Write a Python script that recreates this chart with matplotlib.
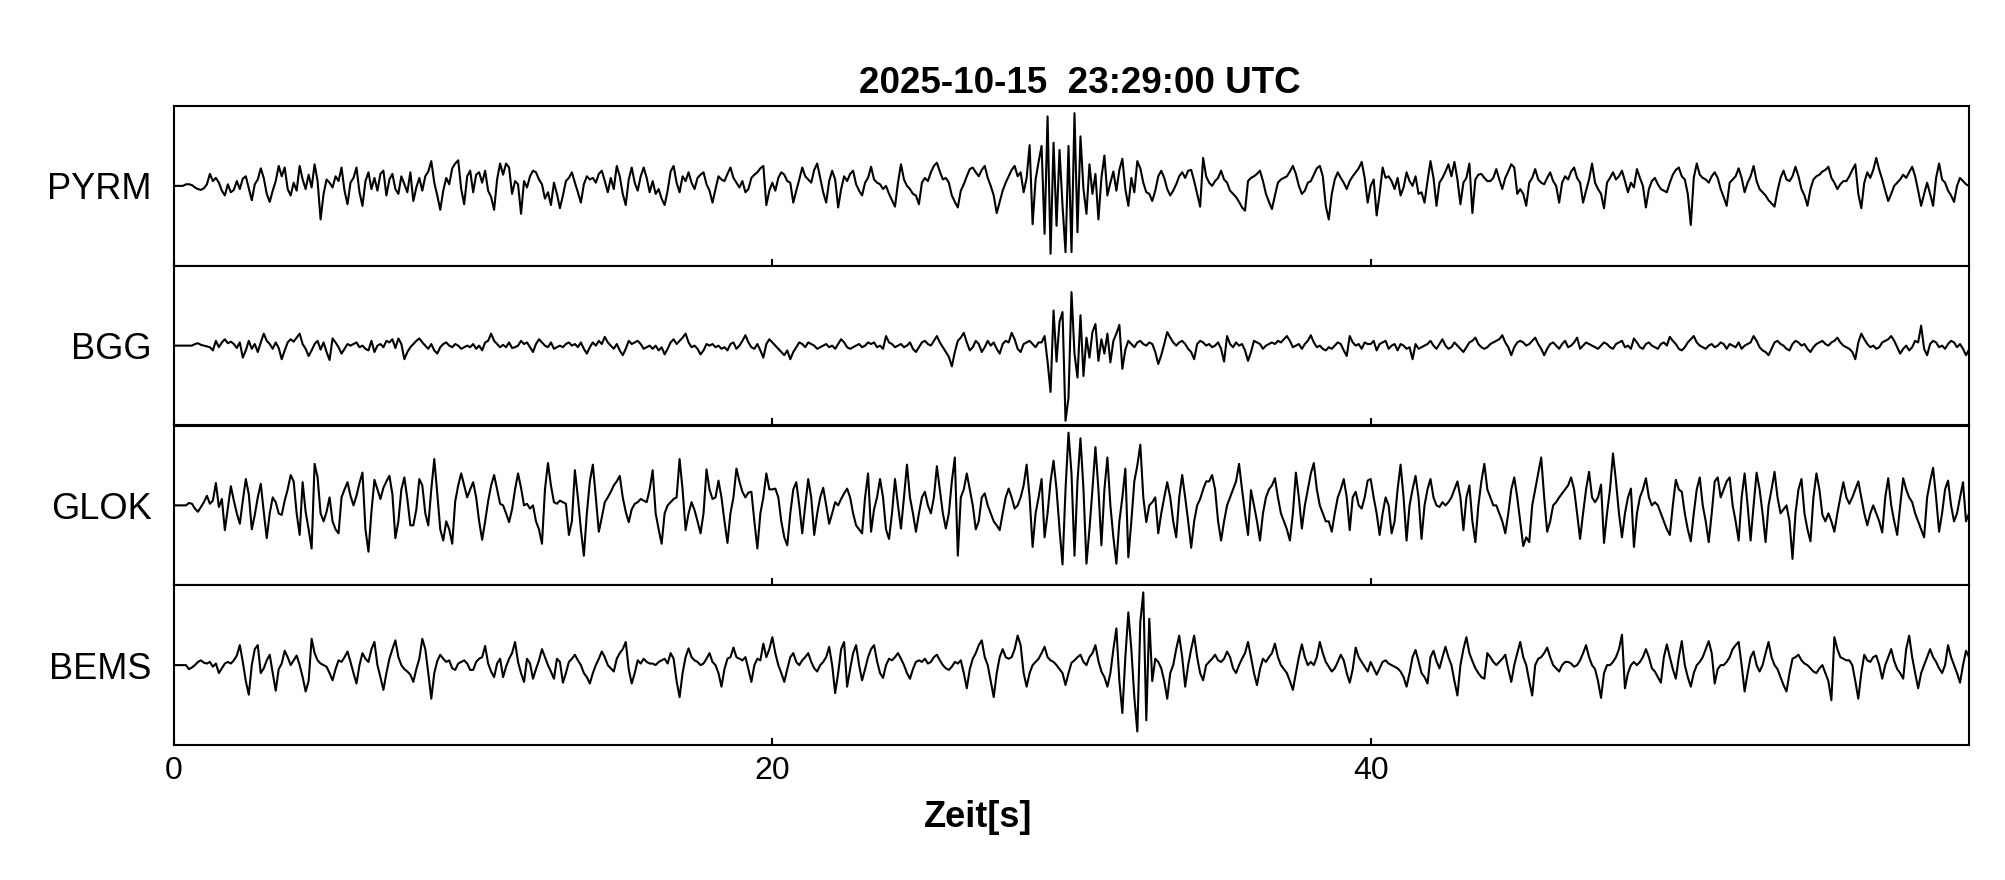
import matplotlib
matplotlib.use('Agg')
import matplotlib.pyplot as plt
import numpy as np

plt.rcParams['font.family'] = 'Liberation Sans'

stations = ['PYRM', 'BGG', 'GLOK', 'BEMS']
xticks = [0, 20, 40]
title = '2025-10-15  23:29:00 UTC'
xlabel = 'Zeit[s]'

# Amplituden in % der halben Spurhoehe, ein Wert alle 0.1 s (0 ... 60 s)
pyrm = [
    0, 0, 0, 0, 2, 2, 1, -2, -4, -5,
    -3, 2, 15, 6, 10, 4, -6, -12, 2, -8,
    -5, 6, -4, 9, 12, -3, -18, 2, 8, 22,
    10, -10, -20, -6, 6, 25, 12, 23, -4, -12,
    4, -6, 25, 8, -4, 14, -2, 27, 6, -42,
    -10, 8, 4, -2, 12, 6, 23, -6, -23, 4,
    10, 23, -8, -25, 6, 17, -4, 10, -6, 15,
    19, -12, 8, 15, -4, -10, 12, 2, -8, 17,
    -19, -2, 10, -6, 12, 18, 31, 4, -12, -30,
    -6, 10, 2, 22, 28, 32, -4, -23, 12, 19,
    -8, 14, 17, 4, 19, -6, -14, -30, 8, 28,
    14, 28, 23, -10, 6, 2, -35, 6, -2, 12,
    19, 17, 8, 2, -16, -8, -24, 4, -10, -28,
    -12, 6, 10, 17, 4, -8, -21, 2, 12, 8,
    10, 4, 15, 19, 6, -8, 10, -4, 25, 12,
    -10, -24, 8, 23, 4, -6, 12, 23, 10, -8,
    6, -10, -4, -16, -24, -6, 18, 25, 4, -8,
    12, 6, 17, 4, -4, 10, 14, 17, 2, -6,
    -21, -4, 12, 8, 6, 15, 23, 10, 4, -2,
    6, -8, -4, 10, 14, 17, 22, 25, -24, -6,
    4, -6, 10, 17, 14, 6, 4, -21, -6, 8,
    23, 12, 8, 4, 20, 28, 10, -8, -21, 6,
    19, 8, -27, -4, 12, 6, 15, 19, 2, -6,
    -12, 4, 10, 24, 8, 4, 2, -4, 0, -10,
    -18, -26, 4, 27, 8, 0, -4, -10, -12, -23,
    4, 10, 6, 17, 25, 29, 18, 8, 10, 4,
    -12, -20, -27, -6, 2, 12, 21, 23, 17, 12,
    20, 25, 10, 0, -12, -34, -20, -6, 4, 12,
    20, 25, 12, 17, -8, 10, 51, -48, 8, 30,
    50, -60, 87, -85, 54, -50, 45, -25, -83, 50,
    -83, 91, -58, 62, -4, -35, 27, -10, 15, -42,
    10, 38, -12, 4, 18, -6, 20, 34, -4, -25,
    10, -8, 31, 22, 4, -8, -10, -19, -6, 12,
    19, 10, -4, -12, -6, 2, 12, 17, 10, 19,
    20, 6, -10, -26, 35, 12, 4, 0, 6, 10,
    19, 8, 4, -6, -10, -14, -20, -27, -31, 6,
    10, 12, 15, 19, 6, -10, -20, -29, -12, 4,
    8, 10, 12, 18, 25, 15, 0, -10, -6, 4,
    6, 14, 22, 25, 12, -25, -42, -10, 8, 17,
    10, 4, -4, 6, 12, 17, 22, 30, 10, -21,
    0, 8, -37, -10, 23, 10, 12, 6, -4, 10,
    -12, -2, 17, 6, 0, 12, -10, -8, -21, 6,
    31, 10, -25, 4, 10, 18, 27, 12, 30, 8,
    -23, 4, 10, 28, -34, 8, 14, 15, 10, 6,
    6, 10, 21, 8, -4, 10, 18, 27, 23, -10,
    -4, -10, -25, 4, 10, 21, 8, 4, 2, 10,
    17, 6, 0, -21, 4, 12, 8, 18, 23, 10,
    4, -21, -6, 8, 28, 4, -4, -10, -28, 4,
    10, 17, 8, 12, 19, 6, -8, 4, -2, 21,
    10, 0, -27, -4, 6, 10, 2, -4, -6, -8,
    4, 14, 20, 23, 12, 8, -10, -49, 10, 28,
    14, 10, 8, 4, 12, 17, 10, -4, -14, -25,
    4, 8, 12, 22, 10, -8, 4, 12, 25, 6,
    -4, -8, -12, -18, -22, -26, -6, 10, 19, 8,
    6, 12, 24, 12, -4, -12, -25, -4, 8, 12,
    14, 18, 20, 24, 10, 4, -4, 2, 6, 6,
    12, 20, 27, -10, -28, 4, 17, 10, 20, 35,
    20, 8, -6, -19, -10, 0, 4, 8, 14, 10,
    17, 24, 12, -6, -25, -10, 4, -10, -25, 10,
    28, 8, 4, -6, -12, -20, 0, 10, 6, 2,
    0,
]

bgg = [
    0, 0, 0, 0, 0, 0, 0, 2, 3, 1,
    0, -1, -2, -6, 6, -2, 4, 8, 3, 5,
    2, -3, 4, -15, -6, 6, -4, 2, -8, 4,
    15, 6, 2, -4, 4, -3, -17, -6, 4, 8,
    5, 10, 15, 2, -4, -13, -6, 2, 6, -5,
    4, -8, -18, 9, 4, -2, -10, -4, 2, 0,
    2, 4, -2, 0, -4, -6, 6, -8, 0, 2,
    -2, 6, 4, 8, -3, 9, 2, -17, -8, -2,
    2, 6, 9, 4, 0, -4, 2, -6, -10, -2,
    2, 4, 0, -2, 2, 0, -4, -2, 0, -2,
    2, -4, 0, -6, 4, 6, 15, 6, 2, -2,
    1, -2, 4, -3, -2, 0, 6, 2, 4, -2,
    -8, 2, 8, 4, 0, -2, 4, -4, -2, 0,
    -2, 2, 4, 0, 2, -2, 4, -4, -10, -2,
    4, 0, 6, 2, 11, 4, 0, -4, 2, -6,
    -12, -4, 6, 2, 4, 6, 2, -4, -2, 0,
    -4, 0, -6, -2, -11, -4, 4, 8, 2, 6,
    10, 15, 4, -2, 0, -4, -11, -6, 2, 0,
    2, -2, 0, -4, -2, -6, 2, 4, -4, 0,
    6, 13, 4, -2, -4, 2, -6, -15, 2, 8,
    4, 0, -4, -8, -12, -6, -17, -8, -2, 4,
    2, -2, 4, 2, 0, -4, -2, 0, 2, -2,
    0, -4, 2, 8, 4, -2, -4, -2, 0, 2,
    -2, 0, 4, 2, 4, -2, 0, -4, 12, 4,
    2, -2, 0, 2, -2, 0, 4, -4, -8, -2,
    4, 6, 2, 0, 6, 12, 4, -2, -8, -14,
    -26, -8, 6, 10, 16, 4, -6, -2, 6, 2,
    -8, -2, 6, 0, 4, -4, -10, 2, 6, 4,
    16, 8, -4, -8, 2, 4, 6, 2, -2, 4,
    4, 12, -20, -58, 44, -20, 30, 42, -94, -65,
    67, -10, -40, 38, -38, 10, -15, 17, 27, -19,
    8, -10, 15, -21, 6, 15, 26, -29, -5, 6,
    2, -2, 4, 6, 2, 0, 4, 2, -8, -23,
    -12, 2, 17, 10, 4, 0, 4, 6, 2, -4,
    -8, -17, 2, 6, 4, 0, 2, -2, 0, 4,
    -4, -20, 12, 2, -2, 4, 0, 2, -6, -19,
    -8, 6, 4, 2, -4, 0, 2, 4, 2, 6,
    4, 8, 12, 6, -2, 0, 2, -4, 2, 6,
    13, 4, -2, 0, -4, -6, -2, -4, 0, 4,
    2, -6, -13, 12, 4, 0, 2, -4, 4, 2,
    2, 6, -6, 2, 4, 6, -4, 0, 2, -6,
    2, 0, -4, -2, -17, 2, -4, -2, 0, 2,
    6, 0, -4, 2, 8, 0, -4, -2, 4, 0,
    -4, -8, -2, 4, 6, 10, 2, -2, -4, -2,
    2, 4, 6, 8, 13, 4, -2, -12, -2, 4,
    6, 4, 0, 2, 6, 10, 2, -4, -12, -4,
    2, 4, 0, -4, 2, 6, -2, 0, 4, 10,
    -4, 0, 4, 2, 0, -2, -4, 0, 4, 2,
    -2, -4, 2, 4, 6, -2, 0, -4, 9, 4,
    -2, -4, 2, 4, 0, -2, -4, 2, 4, 0,
    11, 6, 2, -4, -6, -2, 4, 8, 12, 4,
    0, -2, -4, 0, 2, -2, 0, 4, 2, -4,
    2, 0, -2, 4, -4, 0, 2, 4, 12, 6,
    -2, -6, -8, -12, -4, 4, 6, 2, 0, -4,
    -6, 2, 6, 4, 0, 2, -4, -8, -2, 2,
    4, 6, 2, 0, 4, 6, 10, 4, 0, -2,
    -4, -8, -17, 4, 15, 8, 2, -2, 0, -4,
    -2, 4, 6, 8, 12, 6, -2, -10, -4, 0,
    -6, -2, 6, 4, 25, -4, -12, 2, 6, 4,
    -2, 0, -4, 2, 6, 4, -2, 2, -4, -12,
    -5,
]

glok = [
    0, 0, 0, 0, 0, 3, 2, -4, -8, -2,
    4, 12, 2, 6, 28, -2, 8, -31, -4, 24,
    6, -10, -23, 6, 33, 14, -30, -12, 10, 27,
    -8, -41, -10, 10, 4, -10, -12, 6, 20, 38,
    30, -10, -37, 29, -8, -30, -54, 52, 35, -10,
    -20, -8, 10, -20, -30, -35, 10, 20, 29, 12,
    0, 12, 28, 41, -30, -58, -8, 32, 20, 8,
    22, 30, 37, 14, -41, -20, 20, 35, 8, -25,
    -25, -5, 33, 25, -10, -25, 20, 58, 15, -30,
    -44, -20, -30, -48, 5, 25, 40, 25, 10, 20,
    29, 10, -20, -43, -20, 5, 25, 38, 20, 2,
    0, -10, -21, -5, 20, 40, 22, 0, 2, -4,
    0, -20, -30, -48, 20, 53, 25, 4, 2, 6,
    4, 2, -37, -20, 44, 10, -30, -63, -10, 30,
    51, 10, -33, -15, 4, 10, 17, 25, 30, 37,
    10, -8, -21, -5, 2, 4, 8, 6, 4, 20,
    44, -10, -30, -48, -10, 0, 4, 8, 10, 58,
    20, -31, -10, 4, -6, -20, -35, -10, 45, 20,
    8, 10, 31, 10, -20, -47, -10, 10, 46, 30,
    17, 10, 16, 17, -20, -54, -10, 10, 40, 20,
    20, 21, 10, -20, -40, -50, -10, 20, 29, 0,
    -35, 0, 33, 10, -37, -10, 10, 22, 0, -23,
    -10, 4, 0, 8, 15, 21, 10, -10, -25, -30,
    -35, 10, 40, -33, -5, 10, 33, 10, -30, -42,
    -10, 33, 0, -29, 10, 51, 10, -10, -33, -10,
    10, 17, 0, -10, 10, 49, 20, -10, -29, -10,
    30, 60, -63, 10, 20, 40, 20, 0, -30, -20,
    10, 15, 0, -10, -20, -25, -31, -10, 10, 21,
    10, -4, 0, 10, 25, 51, 10, -52, -10, 10,
    33, -40, -10, 30, 56, 20, -30, -74, 20, 91,
    40, -63, 30, 84, 20, -73, -30, 20, 73, 20,
    -50, 20, 60, 0, -40, -73, -20, 10, 46, -65,
    -20, 30, 50, 76, 10, -21, 0, 4, 10, -35,
    -10, 10, 29, 10, -20, -40, 10, 38, 10, -20,
    -53, -20, 0, 8, 20, 30, 30, 38, 20, -20,
    -44, -20, 0, 10, 20, 30, 52, 20, -10, -37,
    19, 0, -20, -44, -10, 10, 20, 25, 34, 10,
    -10, -20, -30, -44, -10, 41, 10, -29, 0, 20,
    40, 53, 20, 0, -10, -20, -20, -33, -10, 10,
    20, 33, 10, -31, 10, 17, 0, -4, 10, 31,
    33, 10, -10, -37, -10, 10, 0, -35, -20, 20,
    51, 10, -44, 0, 20, 37, 10, -42, 0, 20,
    33, 10, 0, -2, 4, 0, 4, 10, 20, 30,
    10, -31, 10, 25, -20, -46, 0, 30, 52, 20,
    10, 0, 0, -10, -20, -35, -10, 20, 35, 10,
    -20, -51, -40, -46, 0, 20, 40, 60, 10, -33,
    -20, 0, 4, 10, 15, 20, 25, 35, 20, -10,
    -42, -10, 20, 42, 10, 4, 10, 26, -47, -10,
    20, 65, 30, -10, -40, -10, 10, 21, -52, -10,
    10, 20, 34, 10, 0, 4, 0, -10, -20, -30,
    -37, 0, 32, 20, 17, -10, -30, -45, -10, 20,
    35, 0, -20, -46, -10, 30, 35, 10, 20, 30,
    35, 0, -20, -44, 10, 40, 0, -44, 0, 41,
    20, -10, -46, 0, 20, 42, 10, -10, -5, 0,
    -20, -67, -10, 20, 33, -10, -30, -45, 10, 40,
    20, -12, -20, -10, -20, -33, -10, 10, 29, 10,
    2, 10, 20, 30, 10, -10, -25, -10, 0, -10,
    -20, -34, 10, 34, 0, -20, -37, 0, 34, 20,
    10, 4, -10, -20, -30, -40, 10, 30, 47, 10,
    -33, -10, 20, 31, 0, -20, -10, 10, 29, -20,
    -10,
]

bems = [
    0, 0, 0, 0, 0, -5, -3, 0, 4, 6,
    3, 2, 4, -2, 2, -10, -4, 2, 4, 2,
    6, 12, 25, 4, -20, -37, 0, 20, 25, -10,
    -4, 6, 13, -10, -32, -5, 2, 18, 10, 0,
    6, 12, 0, -15, -33, -20, 33, 15, 6, 2,
    0, -2, -10, -19, -5, 6, 4, 10, 17, 4,
    -10, -23, 0, 15, 8, 4, 20, 29, 0, -15,
    -31, -10, 8, 20, 31, 10, 0, -5, -8, -12,
    -21, -5, 8, 33, 20, -10, -42, -10, 5, 13,
    8, 4, 6, -4, -6, 2, 4, 6, 2, -6,
    -6, 4, 8, 10, 24, 2, -8, -15, 2, 8,
    -15, -2, 8, 15, 29, 4, -10, -21, 8, 2,
    -17, -5, 6, 20, 10, 0, -8, -17, 8, 4,
    -22, -10, 4, 8, 13, 6, 0, -10, -15, -23,
    -10, 0, 8, 17, 10, 0, -4, -8, 8, 15,
    20, 29, -5, -23, -10, 6, 2, 8, 4, 2,
    2, 0, 4, 6, 8, 2, 15, 8, -20, -40,
    -10, 10, 21, 10, 6, 4, 0, 2, 8, 15,
    4, 0, -10, -27, -5, 8, 10, 22, 10, 8,
    6, 10, -5, -21, 0, 8, 6, 27, 10, 20,
    35, 15, 0, -10, -21, -5, 10, 15, 4, 0,
    6, 10, 15, 4, -4, -8, 0, 4, 10, 23,
    0, -35, -10, 20, 29, -27, -5, 15, 25, 0,
    -19, -5, 10, 20, 25, 5, -10, -16, 0, 8,
    6, 10, 15, 8, 0, -10, -17, -5, 4, 6,
    4, 8, 2, 4, 10, 13, 6, 0, -4, -6,
    -2, 4, 2, 6, -10, -29, -5, 8, 15, 25,
    31, 10, 0, -20, -40, -10, 10, 20, 10, 8,
    10, 20, 37, 25, -10, -27, -10, 0, 4, 8,
    15, 23, 10, 6, 4, 0, -5, -10, -25, -10,
    3, 6, 10, 13, 4, 0, 10, 15, 25, 5,
    -8, -15, -27, -10, 20, 46, -20, -60, 10, 66,
    20, -40, -83, 54, 91, -69, 58, -20, 8, 4,
    -4, -20, -42, -10, 0, 20, 37, 10, -27, 0,
    20, 37, 10, -10, -19, 0, 4, 8, 13, 6,
    4, 8, 17, 10, -4, -10, 0, 8, 15, 29,
    10, -10, -25, -5, 8, 4, 10, 15, 27, 10,
    0, -5, -10, -20, -31, -10, 10, 26, 10, 0,
    4, 0, 10, 29, 15, 4, -2, -8, -4, 4,
    13, 6, -10, -22, -5, 22, 10, 4, -2, -8,
    4, -4, -12, -4, 4, 6, 2, 0, -2, -4,
    -8, -15, -27, -10, 10, 19, 5, -10, -15, -23,
    10, 18, 5, -4, 10, 23, 10, 0, -20, -38,
    0, 20, 35, 15, 5, -4, -10, -15, -17, 15,
    10, 4, 0, 4, 8, 13, -5, -21, 0, 15,
    29, 10, 0, -20, -38, 0, 8, 10, 15, 22,
    10, 0, -4, -8, 0, 4, 4, 2, -2, 0,
    6, 15, 25, 10, 0, -5, -20, -41, -10, 0,
    0, 4, 10, 20, 38, -29, -10, 0, 4, 0,
    4, 10, 20, 10, -4, -8, -15, -22, 10, 26,
    10, -5, -17, 10, 30, 0, -15, -27, -10, 0,
    4, 10, 20, 30, 15, -23, -5, 0, 0, 4,
    10, 20, 25, 29, 0, -33, -10, 10, 17, 0,
    -8, 0, 15, 29, 10, 0, -5, -15, -25, -33,
    -10, 8, 10, 13, 6, 2, 0, -4, -8, -10,
    -4, 0, -10, -20, -44, 35, 20, 10, 8, 6,
    6, 0, -20, -42, -10, 13, 6, 4, 10, 12,
    0, -17, 0, 10, 20, 5, -5, -10, -17, 20,
    37, 10, -10, -29, -10, 0, 10, 20, 10, 4,
    -4, -10, 0, 25, 10, 0, -10, -22, 0, 18,
    10,
]

traces = [pyrm, bgg, glok, bems]

fig = plt.figure(figsize=(20.05, 8.8), dpi=100)
axs = fig.subplots(4, 1, sharex=True, gridspec_kw={'hspace': 0})
fig.subplots_adjust(left=174 / 2005, right=1969 / 2005, top=1 - 106 / 880, bottom=1 - 745 / 880)

for ax, name, v in zip(axs, stations, traces):
    t = np.linspace(0, 60, len(v))
    ax.plot(t, v, color='black', lw=1.5)
    ax.set_xlim(0, 60)
    ax.set_ylim(-100, 100)
    ax.set_yticks([0])
    ax.set_yticklabels([name], fontsize=26)
    ax.tick_params(axis='y', length=0, pad=16)
    ax.tick_params(axis='x', direction='in', length=5, width=1.5, labelsize=23, pad=8)
    for s in ax.spines.values():
        s.set_linewidth(1.5)

axs[-1].set_xticks(xticks)

fig.text(1080 / 2005, 1 - 93 / 880, title, ha='center', va='baseline',
         fontsize=26.5, fontweight='bold')
fig.text(978 / 2005, 1 - 827 / 880, xlabel, ha='center', va='baseline',
         fontsize=26, fontweight='bold')

fig.savefig('out.png', dpi=100)
